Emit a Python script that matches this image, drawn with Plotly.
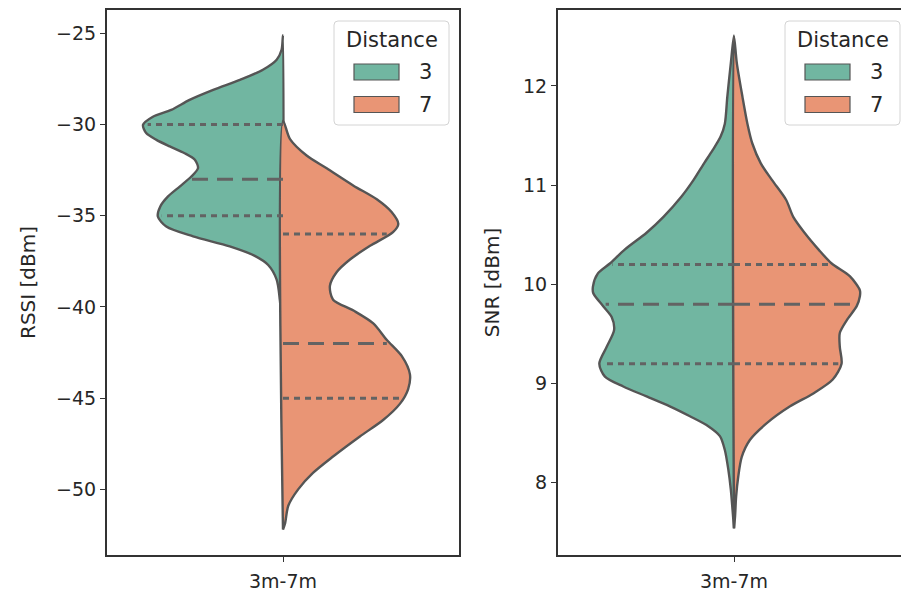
import numpy as np
import plotly.graph_objects as go

# ---------------- data ----------------
category = "3m-7m"
legend_title = "Distance"
groups = ["3", "7"]

# RSSI density profiles (value level, half-width in category units)
rssi3_y = [-25.1, -25.9, -26.45, -27.0, -27.55, -28.1, -28.65, -29.2, -29.57, -30.02, -30.47,
           -30.84, -31.2, -31.57, -31.93, -32.39, -32.85, -33.4, -33.94, -34.49, -35.04, -35.59,
           -36.13, -36.68, -37.2, -37.7, -38.5, -39.6, -40.8, -42.0]
rssi3_w = [0, 0.004, 0.018, 0.057, 0.122, 0.198, 0.265, 0.317, 0.369, 0.397, 0.388,
           0.359, 0.321, 0.279, 0.25, 0.241, 0.26, 0.293, 0.326, 0.348, 0.355, 0.331,
           0.255, 0.151, 0.08, 0.042, 0.018, 0.009, 0.004, 0]
rssi7_y = [-29.8, -30.8, -31.7, -32.4, -33.35, -34.1, -34.8, -35.45, -35.9, -36.65, -37.4, -38.1,
           -38.85, -39.6, -40.2, -40.9, -41.8, -42.7, -43.7, -44.5, -45.3, -46.2, -47.1, -48.2,
           -49.1, -50.0, -50.9, -51.85, -52.2]
rssi7_w = [0, 0.02, 0.067, 0.124, 0.2, 0.266, 0.308, 0.327, 0.312, 0.247, 0.19, 0.152,
           0.133, 0.142, 0.2, 0.256, 0.294, 0.337, 0.36, 0.355, 0.332, 0.284, 0.218, 0.142,
           0.085, 0.043, 0.015, 0.006, 0]
rssi3_quartiles = [-35, -33, -30]
rssi7_quartiles = [-45, -42, -36]

# SNR density profiles
snr3_y = [12.51, 12.23, 11.89, 11.62, 11.49, 11.35, 11.22, 11.05, 10.88, 10.68, 10.52, 10.35,
          10.21, 10.11, 9.98, 9.91, 9.78, 9.67, 9.54, 9.37, 9.2, 9.07, 8.97, 8.87, 8.77, 8.67,
          8.57, 8.47, 8.33, 8.13, 7.93, 7.72, 7.54]
snr3_w = [0, 0.009, 0.019, 0.026, 0.038, 0.061, 0.085, 0.115, 0.15, 0.2, 0.248, 0.31,
          0.352, 0.386, 0.4, 0.399, 0.371, 0.347, 0.34, 0.361, 0.382, 0.366, 0.314, 0.248, 0.182,
          0.125, 0.073, 0.04, 0.026, 0.016, 0.009, 0.004, 0]
snr7_y = [12.5, 12.23, 11.89, 11.62, 11.42, 11.22, 11.05, 10.85, 10.68, 10.52, 10.35, 10.21,
          10.08, 9.94, 9.88, 9.78, 9.64, 9.51, 9.37, 9.2, 9.04, 8.9, 8.77, 8.6, 8.43, 8.26,
          8.06, 7.86, 7.66, 7.54]
snr7_w = [0, 0.008, 0.024, 0.038, 0.052, 0.076, 0.108, 0.148, 0.168, 0.2, 0.24, 0.277,
          0.329, 0.357, 0.357, 0.348, 0.32, 0.3, 0.3, 0.305, 0.28, 0.225, 0.159, 0.093, 0.045,
          0.022, 0.012, 0.006, 0.003, 0]
snr3_quartiles = [9.2, 9.8, 10.2]
snr7_quartiles = [9.2, 9.8, 10.2]

rssi_ticks = [-50, -45, -40, -35, -30, -25]
snr_ticks = [8, 9, 10, 11, 12]

# ---------------- styling ----------------
COL3 = "#71b6a1"
COL7 = "#e99575"
COLORS = [COL3, COL7]
EDGE = "#555555"
QCOL = "#636363"
TXT = "#262626"
FONT = "DejaVu Sans"
W, H = 901, 592

fig = go.Figure()


def half_violin(ys, ws, side, color, name, xa, ya):
    ys = np.asarray(ys, float)
    ws = np.asarray(ws, float) * side
    xs = np.concatenate([ws, [0.0, 0.0]])
    yy = np.concatenate([ys, [ys[-1], ys[0]]])
    fig.add_trace(go.Scatter(
        x=xs, y=yy, fill="toself", fillcolor=color, mode="lines",
        line=dict(color=EDGE, width=2.4, shape="spline", smoothing=0.8),
        name=name, showlegend=False, xaxis=xa, yaxis=ya, hoverinfo="skip"))


def quartile_lines(ys, ws, qs, side, xa, ya):
    yr = np.asarray(ys, float)[::-1]
    wr = np.asarray(ws, float)[::-1]
    for i, q in enumerate(qs):
        wq = float(np.interp(q, yr, wr)) * 0.97
        dash = "16px,9px" if i == 1 else "6px,5px"
        fig.add_trace(go.Scatter(
            x=[0, side * wq], y=[q, q], mode="lines",
            line=dict(color=QCOL, width=3, dash=dash),
            showlegend=False, xaxis=xa, yaxis=ya, hoverinfo="skip"))


half_violin(rssi3_y, rssi3_w, -1, COL3, groups[0], "x", "y")
half_violin(rssi7_y, rssi7_w, 1, COL7, groups[1], "x", "y")
quartile_lines(rssi3_y, rssi3_w, rssi3_quartiles, -1, "x", "y")
quartile_lines(rssi7_y, rssi7_w, rssi7_quartiles, 1, "x", "y")

half_violin(snr3_y, snr3_w, -1, COL3, groups[0], "x2", "y2")
half_violin(snr7_y, snr7_w, 1, COL7, groups[1], "x2", "y2")
quartile_lines(snr3_y, snr3_w, snr3_quartiles, -1, "x2", "y2")
quartile_lines(snr7_y, snr7_w, snr7_quartiles, 1, "x2", "y2")

ydom = [1 - 555 / H, 1 - 10 / H]


def px(x):
    return x / W


def py(y):
    return 1 - y / H


# ---------------- legends (drawn as shapes + text, one per panel) ----------------
shapes = []
annotations = []


def rounded_box(x0, y0, x1, y1, r=4):
    rx, ry = r / W, r / H
    X0, X1, Y0, Y1 = px(x0), px(x1), py(y0), py(y1)
    return (f"M{X0 + rx},{Y0} L{X1 - rx},{Y0} Q{X1},{Y0} {X1},{Y0 - ry} "
            f"L{X1},{Y1 + ry} Q{X1},{Y1} {X1 - rx},{Y1} L{X0 + rx},{Y1} "
            f"Q{X0},{Y1} {X0},{Y1 + ry} L{X0},{Y0 - ry} Q{X0},{Y0} {X0 + rx},{Y0} Z")


for off in (0, 451):
    shapes.append(dict(type="path", xref="paper", yref="paper",
                       path=rounded_box(334 + off, 21, 449 + off, 125),
                       fillcolor="rgba(255,255,255,0.8)", line=dict(color="#d4d4d4", width=1)))
    annotations.append(dict(xref="paper", yref="paper", x=px(391.5 + off), y=py(40),
                            text=legend_title, showarrow=False, xanchor="center", yanchor="middle",
                            font=dict(family=FONT, size=21, color=TXT)))
    for k, (g, c) in enumerate(zip(groups, COLORS)):
        yc = 72 + 32.5 * k
        shapes.append(dict(type="rect", xref="paper", yref="paper",
                           x0=px(354 + off), x1=px(399 + off), y0=py(yc - 8), y1=py(yc + 8),
                           fillcolor=c, line=dict(color=EDGE, width=1.2)))
        annotations.append(dict(xref="paper", yref="paper", x=px(425 + off), y=py(yc),
                                text=g, showarrow=False, xanchor="center", yanchor="middle",
                                font=dict(family=FONT, size=21, color=TXT)))

axis_common = dict(
    showgrid=False, zeroline=False, showline=True, linecolor="#333333", linewidth=1.5,
    ticks="outside", ticklen=5, tickwidth=1.2, tickcolor="#333333",
    tickfont=dict(family=FONT, size=19, color=TXT),
)

fig.update_layout(
    width=W, height=H, margin=dict(l=0, r=0, t=0, b=0),
    plot_bgcolor="white", paper_bgcolor="white", showlegend=False,
    xaxis=dict(domain=[106.7 / W, 459.3 / W], range=[-0.5, 0.5], tickvals=[0],
               ticktext=[category], mirror=True, anchor="y", ticklabelstandoff=3, **axis_common),
    yaxis=dict(domain=ydom, range=[-53.6, -23.72], tickvals=rssi_ticks,
               ticktext=[f"\u2212{abs(v)}" for v in rssi_ticks], mirror=True,
               anchor="x", ticklabelstandoff=0,
               title=dict(text="RSSI [dBm]", font=dict(family=FONT, size=20, color=TXT), standoff=15),
               **axis_common),
    xaxis2=dict(domain=[557.7 / W, 1.0], range=[-0.5, 0.4736], tickvals=[0],
                ticktext=[category], mirror=True, anchor="y2", ticklabelstandoff=3, **axis_common),
    yaxis2=dict(domain=ydom, range=[7.271, 12.766], tickvals=snr_ticks, anchor="x2",
                ticklabelstandoff=0,
                title=dict(text="SNR [dBm]", font=dict(family=FONT, size=20, color=TXT), standoff=18),
                **axis_common),
    shapes=shapes, annotations=annotations,
)

fig.write_html("out.html", config={"displayModeBar": False},
               post_script="document.body.style.margin='0';document.body.style.overflow='hidden';")
